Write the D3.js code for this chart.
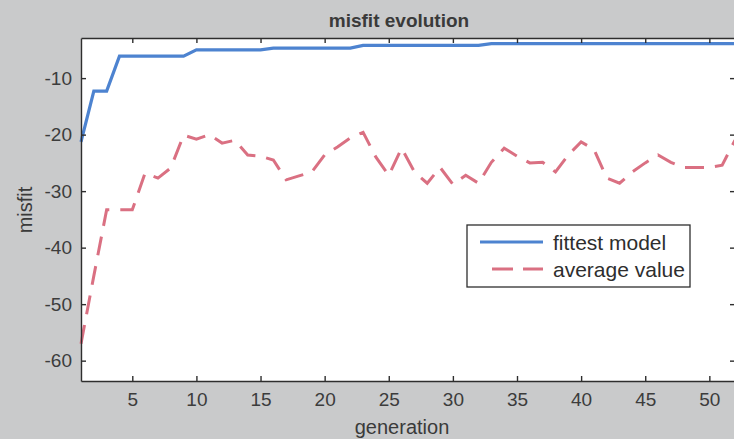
<!DOCTYPE html>
<html>
<head>
<meta charset="utf-8">
<script src="https://d3js.org/d3.v7.min.js"></script>
<style>
  html, body { margin: 0; padding: 0; background: #c9cacb; }
  svg { display: block; font-family: 'Liberation Sans', Arial, sans-serif; }
  .axis path, .axis line { stroke: #2e2e2e; stroke-width: 1.4px; }
  .axis text { fill: #3c3c3c; font-size: 19px; }
</style>
</head>
<body>
<div class="chart"></div>
<script>
// generations 1..52
var generations = d3.range(1, 53)

var fittest = [
  -21.3, -12.3, -12.3, -6.1, -6.1, -6.1, -6.1, -6.1, -6.1, -5.0,
  -5.0, -5.0, -5.0, -5.0, -5.0, -4.7, -4.7, -4.7, -4.7, -4.7,
  -4.7, -4.7, -4.2, -4.2, -4.2, -4.2, -4.2, -4.2, -4.2, -4.2,
  -4.2, -4.2, -3.9, -3.9, -3.9, -3.9, -3.9, -3.9, -3.9, -3.9,
  -3.9, -3.9, -3.9, -3.9, -3.9, -3.9, -3.9, -3.9, -3.9, -3.9,
  -3.9, -3.9
]

var average = [
  -57.0, -45.0, -33.3, -33.3, -33.3, -26.8, -27.7, -25.9, -20.1, -20.8,
  -20.0, -21.5, -21.0, -23.6, -23.8, -24.5, -28.0, -27.3, -26.6, -23.6,
  -22.2, -20.6, -19.6, -24.0, -27.2, -22.4, -26.6, -28.6, -25.8, -28.8,
  -27.2, -28.6, -24.9, -22.4, -23.8, -25.0, -24.9, -26.6, -23.6, -21.3,
  -22.6, -27.7, -28.6, -26.6, -25.0, -23.6, -24.9, -25.8, -25.8, -25.8,
  -25.4, -21.0
]

var xTicks = [5, 10, 15, 20, 25, 30, 35, 40, 45, 50]
var yTicks = [-60, -50, -40, -30, -20, -10]
var seriesNames = ['fittest model', 'average value']
var seriesColors = ['#4d83d0', '#da7082']

var width = 734
var height = 439
var box = { left: 81, top: 38, right: 735, bottom: 381 }

var svg = d3.select('.chart')
  .append('svg')
  .attr('width', width)
  .attr('height', height)

var x = d3.scaleLinear().domain([1, 52]).range([box.left, box.right])
var y = d3.scaleLinear().domain([-63.6, -2.9]).range([box.bottom, box.top])

// plain hyphen minus, as matlab prints it
var plain = function(d) { return String(d) }

// white plot area
svg.append('rect')
  .attr('x', box.left)
  .attr('y', box.top)
  .attr('width', box.right - box.left)
  .attr('height', box.bottom - box.top)
  .attr('fill', '#ffffff')

var line = d3.line()
  .x(function(d) { return x(d.g) })
  .y(function(d) { return y(d.v) })

function points(values) {
  return generations.map(function(g, i) { return { g: g, v: values[i] } })
}

var plot = svg.append('g')

plot.append('path')
  .datum(points(average))
  .attr('d', line)
  .attr('fill', 'none')
  .attr('stroke', seriesColors[1])
  .attr('stroke-width', 3)
  .attr('stroke-dasharray', '19,11')

plot.append('path')
  .datum(points(fittest))
  .attr('d', line)
  .attr('fill', 'none')
  .attr('stroke', seriesColors[0])
  .attr('stroke-width', 3.2)

// axes, ticks pointing inward like matlab
svg.append('g')
  .attr('class', 'axis')
  .attr('transform', 'translate(0,' + box.bottom + ')')
  .call(d3.axisBottom(x).tickValues(xTicks).tickFormat(plain).tickSize(-5).tickPadding(12).tickSizeOuter(0))

svg.append('g')
  .attr('class', 'axis')
  .attr('transform', 'translate(0,' + box.top + ')')
  .call(d3.axisTop(x).tickValues(xTicks).tickSize(-5).tickFormat('').tickSizeOuter(0))

svg.append('g')
  .attr('class', 'axis')
  .attr('transform', 'translate(' + box.left + ',0)')
  .call(d3.axisLeft(y).tickValues(yTicks).tickFormat(plain).tickSize(-5).tickPadding(9).tickSizeOuter(0))

svg.append('g')
  .attr('class', 'axis')
  .attr('transform', 'translate(' + box.right + ',0)')
  .call(d3.axisRight(y).tickValues(yTicks).tickSize(-5).tickFormat('').tickSizeOuter(0))

// titles
svg.append('text')
  .attr('x', 399)
  .attr('y', 27)
  .attr('text-anchor', 'middle')
  .attr('font-size', 19)
  .attr('font-weight', 'bold')
  .attr('fill', '#3a3a3a')
  .text('misfit evolution')

svg.append('text')
  .attr('x', 402)
  .attr('y', 434)
  .attr('text-anchor', 'middle')
  .attr('font-size', 20)
  .attr('fill', '#3a3a3a')
  .text('generation')

svg.append('text')
  .attr('transform', 'translate(32,210)rotate(-90)')
  .attr('text-anchor', 'middle')
  .attr('font-size', 20)
  .attr('fill', '#3a3a3a')
  .text('misfit')

// legend
var legend = svg.append('g')

legend.append('rect')
  .attr('x', 467)
  .attr('y', 225)
  .attr('width', 223)
  .attr('height', 62)
  .attr('fill', '#ffffff')
  .attr('stroke', '#2e2e2e')
  .attr('stroke-width', 1.3)

seriesNames.forEach(function(name, i) {
  var ly = 242 + i * 27
  legend.append('line')
    .attr('x1', i === 0 ? 480 : 492)
    .attr('x2', 543)
    .attr('y1', ly)
    .attr('y2', ly)
    .attr('stroke', seriesColors[i])
    .attr('stroke-width', 3)
    .attr('stroke-dasharray', i === 0 ? null : '21,10')
  legend.append('text')
    .attr('x', 553)
    .attr('y', ly + 8)
    .attr('font-size', 21)
    .attr('fill', '#2e2e2e')
    .text(name)
})
</script>
</body>
</html>
